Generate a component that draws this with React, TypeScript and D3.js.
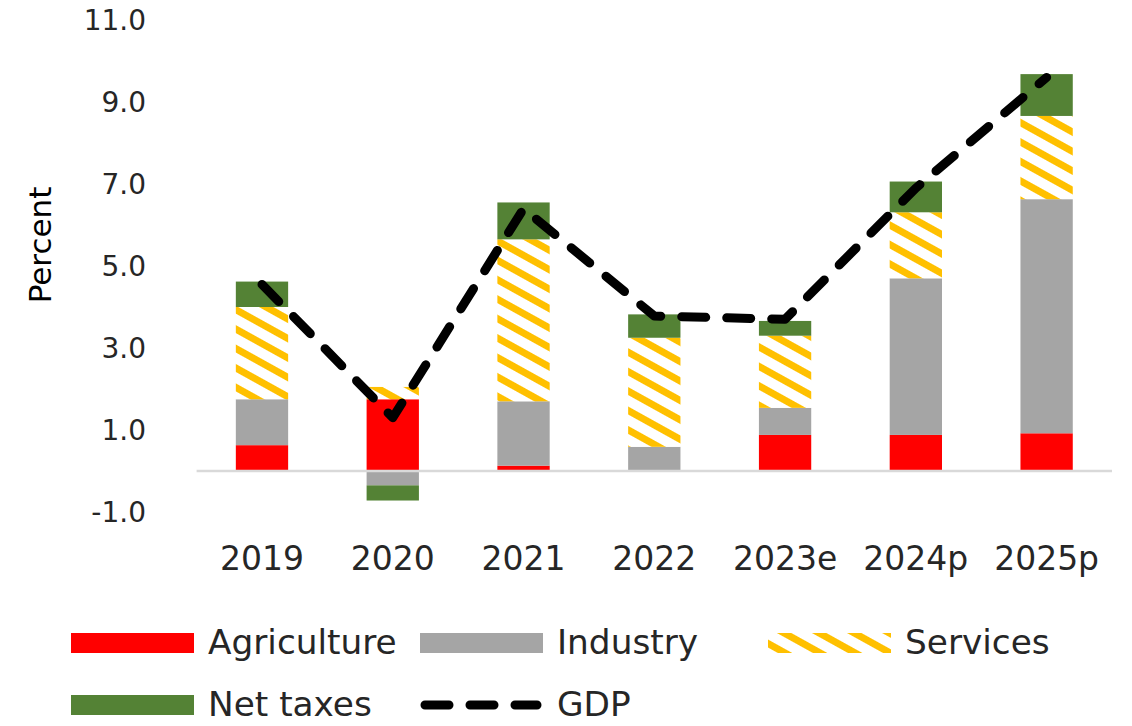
import React from 'react';
import * as d3 from 'd3';

const categories = ['2019', '2020', '2021', '2022', '2023e', '2024p', '2025p'];
const agriculture = [0.63, 1.75, 0.13, 0.0, 0.88, 0.88, 0.92];
const industry = [1.12, -0.35, 1.57, 0.59, 0.66, 3.82, 5.71];
const services = [2.25, 0.3, 3.95, 2.66, 1.76, 1.61, 2.03];
const netTaxes = [0.62, -0.37, 0.9, 0.57, 0.36, 0.75, 1.02];
const gdp = [4.55, 1.3, 6.4, 3.78, 3.7, 6.9, 9.6];
const yTicks = [-1, 1, 3, 5, 7, 9, 11];

const seriesKeys = ['agriculture', 'industry', 'services', 'netTaxes'];
const seriesFill: Record<string, string> = {
  agriculture: '#FF0000',
  industry: '#A5A5A5',
  services: 'url(#svcPattern)',
  netTaxes: '#548235',
};

const FONT = "'DejaVu Sans', Verdana, sans-serif";
const TEXT = '#262626';

export default function App() {
  const W = 1132;
  const H = 726;

  const x = d3
    .scaleBand<string>()
    .domain(categories)
    .range([196.6, 1112])
    .paddingInner(0.6)
    .paddingOuter(0.3);
  const y = d3.scaleLinear().domain([-1, 11]).range([512, 20]);

  const rows = categories.map((c, i) => ({
    cat: c,
    agriculture: agriculture[i],
    industry: industry[i],
    services: services[i],
    netTaxes: netTaxes[i],
  }));
  const stacked = d3
    .stack<any>()
    .keys(seriesKeys)
    .offset(d3.stackOffsetDiverging)(rows);

  const cx = (c: string) => (x(c) as number) + x.bandwidth() / 2;
  const line = d3
    .line<number>()
    .x((_, i) => cx(categories[i]))
    .y((d) => y(d));

  const legendRow1 = 643;
  const legendRow2 = 705;
  const sw = 123;
  const sh = 20;
  const legendScale = 'scale(1.04,1)';

  return (
    <svg
      width={W}
      height={H}
      style={{ position: 'absolute', left: 0, top: 0, background: '#fff' }}
    >
      <defs>
        <pattern
          id="svcPattern"
          patternUnits="userSpaceOnUse"
          width={17}
          height={17}
          patternTransform="rotate(29)"
        >
          <rect x={0} y={0} width={17} height={17} fill="#fff" />
          <rect x={0} y={0} width={17} height={7} fill="#FFC000" />
        </pattern>
      </defs>

      {/* y tick labels */}
      {yTicks.map((t) => (
        <text
          key={t}
          x={146}
          y={y(t)}
          textAnchor="end"
          dominantBaseline="central"
          fontFamily={FONT}
          fontSize={28}
          fill={TEXT}
        >
          {t.toFixed(1)}
        </text>
      ))}

      <text
        transform={`translate(40,245) rotate(-90)`}
        textAnchor="middle"
        dominantBaseline="central"
        fontFamily={FONT}
        fontSize={31}
        fill="#000"
      >
        Percent
      </text>

      {/* stacked bars */}
      {stacked.map((s) => (
        <g key={s.key} fill={seriesFill[s.key]}>
          {s.map((d, i) => {
            const y0 = y(d[0]);
            const y1 = y(d[1]);
            const h = Math.abs(y0 - y1);
            if (h < 0.01) return null;
            return (
              <rect
                key={i}
                x={x(categories[i]) as number}
                y={Math.min(y0, y1)}
                width={x.bandwidth()}
                height={h}
              />
            );
          })}
        </g>
      ))}

      {/* zero line */}
      <line
        x1={196.6}
        x2={1112}
        y1={y(0)}
        y2={y(0)}
        stroke="#D9D9D9"
        strokeWidth={2.5}
      />

      {/* GDP line */}
      <path
        d={line(gdp) as string}
        fill="none"
        stroke="#000"
        strokeWidth={9}
        strokeDasharray="24 21"
        strokeLinecap="round"
        strokeLinejoin="round"
      />

      {/* x labels */}
      {categories.map((c) => (
        <text
          key={c}
          x={cx(c)}
          y={558}
          textAnchor="middle"
          dominantBaseline="central"
          fontFamily={FONT}
          fontSize={33}
          fill={TEXT}
        >
          {c}
        </text>
      ))}

      {/* legend */}
      <g fontFamily={FONT} fontSize={33} fill={TEXT}>
        <rect x={71} y={legendRow1 - sh / 2} width={sw} height={sh} fill={seriesFill.agriculture} />
        <text transform={`translate(208,${legendRow1}) ${legendScale}`} dominantBaseline="central">Agriculture</text>

        <rect x={420} y={legendRow1 - sh / 2} width={sw} height={sh} fill={seriesFill.industry} />
        <text transform={`translate(557,${legendRow1}) ${legendScale}`} dominantBaseline="central">Industry</text>

        <rect x={768} y={legendRow1 - sh / 2} width={sw} height={sh} fill={seriesFill.services} />
        <text transform={`translate(905,${legendRow1}) ${legendScale}`} dominantBaseline="central">Services</text>

        <rect x={71} y={legendRow2 - sh / 2} width={sw} height={sh} fill={seriesFill.netTaxes} />
        <text transform={`translate(208,${legendRow2}) ${legendScale}`} dominantBaseline="central">Net taxes</text>

        <line
          x1={425}
          x2={537}
          y1={legendRow2}
          y2={legendRow2}
          stroke="#000"
          strokeWidth={9}
          strokeDasharray="24 21"
          strokeLinecap="round"
        />
        <text transform={`translate(557,${legendRow2}) ${legendScale}`} dominantBaseline="central">GDP</text>
      </g>
    </svg>
  );
}
